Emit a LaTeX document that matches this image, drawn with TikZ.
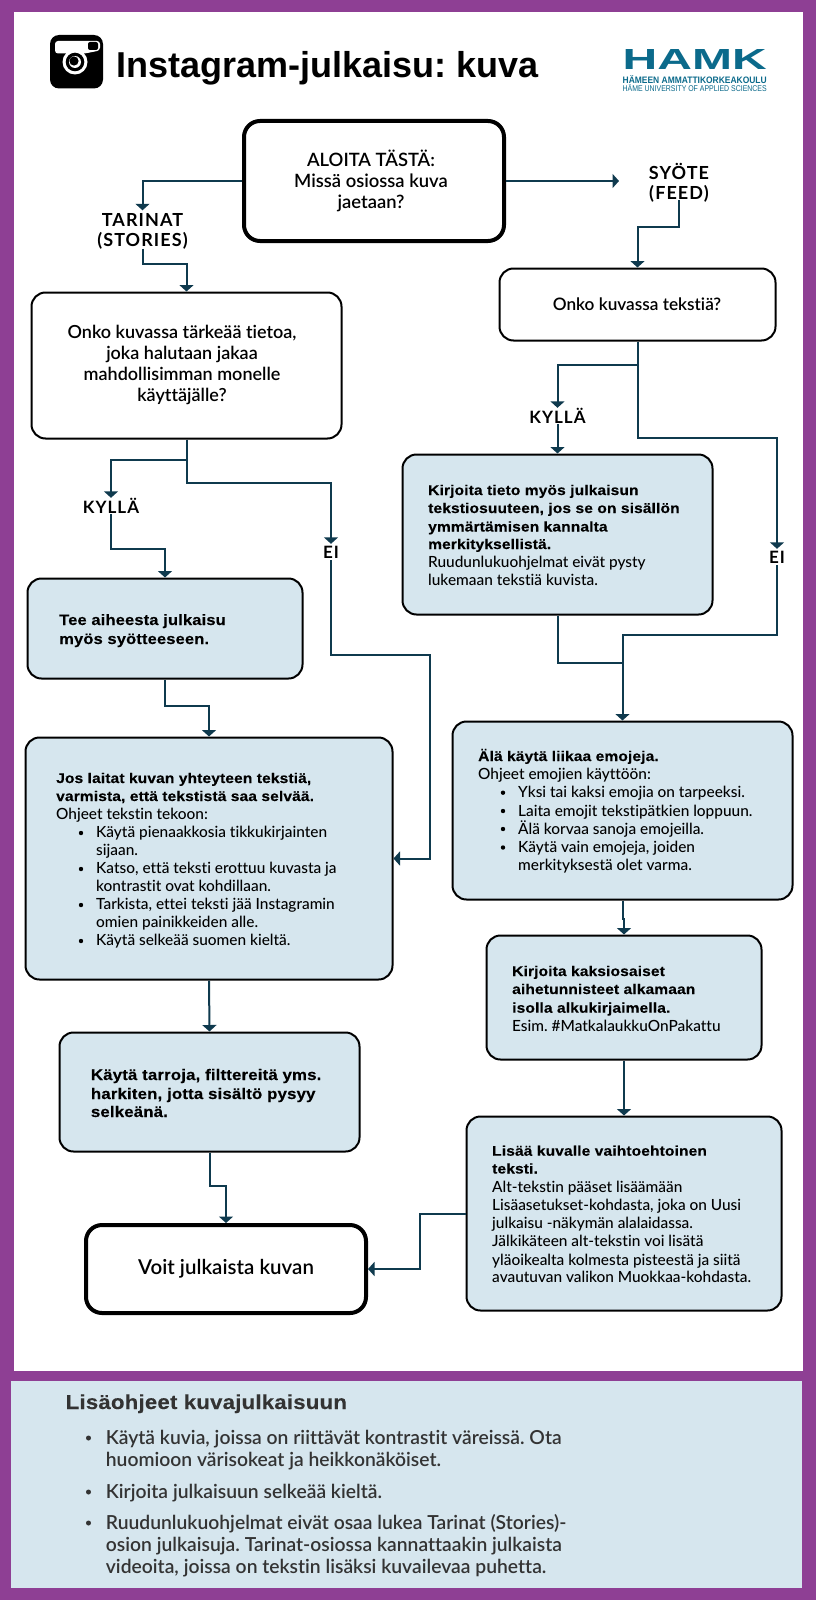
\documentclass[tikz,border=0pt]{standalone}
\usepackage{fontspec}
\usetikzlibrary{arrows.meta,calc}
\setmainfont[RawFeature={-liga}]{Lato}
\newfontfamily\hd{Liberation Sans}
\newfontfamily\bld[FakeStretch=1.1,LetterSpace=1,FakeBold=0.25]{Liberation Sans Bold}
\newfontfamily\lab[LetterSpace=6,RawFeature={-liga}]{Lato Bold}
\newfontfamily\med[RawFeature={-liga}]{Lato Medium}
\newfontfamily\semi[RawFeature={-liga}]{Lato Semibold}
\AtBeginDocument{\frenchspacing}
\definecolor{purp}{HTML}{8E3F94}
\definecolor{pale}{HTML}{D6E6EE}
\definecolor{ink}{HTML}{0F3A4E}
\definecolor{hamk}{HTML}{0B6A8B}
\definecolor{txt}{HTML}{333333}
\tikzset{
 x=1pt,y=-1pt,
 box/.style={draw=black,line width=2pt,rounded corners=14pt,inner sep=0pt},
 tbox/.style={draw=black,line width=4pt,rounded corners=16pt,fill=white},
 qbox/.style={box,fill=white},
 ibox/.style={box,fill=pale},
 conn/.style={draw=ink,line width=2pt,-{Triangle[width=14pt,length=6.5pt]}},
 plain/.style={draw=ink,line width=2pt},
 lbl/.style={font=\fontsize{17}{20}\selectfont\lab,align=center,inner sep=0pt,text depth=0pt},
 lblb/.style={lbl,font=\fontsize{18}{20}\selectfont\lab},
 ctext/.style={align=center,inner sep=0pt,text=black},
 ltext/.style={anchor=base west,inner sep=0pt,text=black,font=\fontsize{15.4}{18}\selectfont\med},
 btext/.style={ltext,font=\fontsize{14.1}{18}\selectfont\bld},
 btexta/.style={ltext,font=\fontsize{15}{18}\selectfont\bld},
 btextb/.style={ltext,font=\fontsize{15.3}{18}\selectfont\bld},
 dot/.style={circle,fill=black,inner sep=0pt,minimum size=4.4pt},
 pan/.style={anchor=base west,inner sep=0pt,text=txt,font=\fontsize{19.3}{22}\selectfont\semi},
 pdot/.style={circle,fill=txt,inner sep=0pt,minimum size=5pt},
}
\begin{document}
\begin{tikzpicture}
\useasboundingbox (0,0) rectangle (816,1600);
\fill[purp] (0,0) rectangle (816,1600);
\fill[white] (14,12) rectangle (803,1371);
\fill[pale] (11,1381) rectangle (802,1588);
% icon
\fill[black,rounded corners=9pt] (50,35) rectangle (103,88.5);
\fill[white,rounded corners=3pt] (55,53.5) -- (55,41) -- (100,41) -- (100,50.5) -- (85,53.5) -- cycle;
\fill[black,rounded corners=2pt] (88,42) rectangle (98,50);
\fill[white] (75,62) circle (12.5);
\fill[black] (75,62) circle (9.3);
\fill[white] (75,62) circle (6);
\fill[black] (74,61) circle (4.6);
\node[inner sep=0pt,anchor=base west,font=\fontsize{36}{40}\selectfont\hd\bfseries] (title) at (116,78) {Instagram-julkaisu: kuva};
% logo
\node[inner sep=0pt,text=hamk,anchor=north west] (logoa) at (622.5,49) {\resizebox{144pt}{20pt}{\bfseries\hd HAMK}};
\node[inner sep=0pt,text=hamk,anchor=north west] (logob) at (622.5,75) {\resizebox{144pt}{8pt}{\bfseries\hd HÄMEEN AMMATTIKORKEAKOULU}};
\node[inner sep=0pt,text=hamk,anchor=north west] (logoc) at (622.5,84.5) {\resizebox{144pt}{7pt}{\hd HÄME UNIVERSITY OF APPLIED SCIENCES}};
% boxes
\node[tbox,minimum width=260pt,minimum height=120pt] (start) at (374,181) {};
\node[qbox,minimum width=276pt,minimum height=72pt] (qf) at (637.5,304.5) {};
\node[qbox,minimum width=310pt,minimum height=146pt] (qs) at (186.5,365.5) {};
\node[ibox,minimum width=310pt,minimum height=160pt] (kirj) at (557.5,534.5) {};
\node[ibox,minimum width=275pt,minimum height=100pt] (tee) at (165,628.5) {};
\node[ibox,minimum width=367pt,minimum height=242pt] (jos) at (209,858.5) {};
\node[ibox,minimum width=300pt,minimum height=119pt] (tarr) at (209.5,1092) {};
\node[tbox,minimum width=280pt,minimum height=88pt] (voit) at (226,1269) {};
\node[ibox,minimum width=340pt,minimum height=178pt] (ala) at (622.5,810.5) {};
\node[ibox,minimum width=275pt,minimum height=124pt] (kaksi) at (624,997.5) {};
\node[ibox,minimum width=315pt,minimum height=194pt] (lisaa) at (624,1213.5) {};
% labels
\node[lblb,minimum height=38pt] (tar) at (142.5,229.5) {TARINAT\\(STORIES)};
\node[lblb,minimum height=38pt] (syo) at (679,181) {SYÖTE\\(FEED)};
\node[lbl,minimum height=16pt] (k2) at (557.5,416) {KYLLÄ};
\node[lbl,minimum height=16pt] (k1) at (111,506) {KYLLÄ};
\node[lbl,minimum height=16pt] (e1) at (331,552) {EI};
\node[lbl,minimum height=16pt] (e2) at (777,557) {EI};
% texts
\node[ctext,font=\fontsize{18.4}{21}\selectfont\semi] (t0) at (371,181) {ALOITA TÄSTÄ:\\Missä osiossa kuva\\jaetaan?};
\node[ctext,font=\fontsize{17.2}{20}\selectfont\semi] (t1) at (637,304) {Onko kuvassa tekstiä?};
\node[ctext,font=\fontsize{18}{20.7}\selectfont\semi] (t2) at (182,365) {Onko kuvassa tärkeää tietoa,\\joka halutaan jakaa\\mahdollisimman monelle\\käyttäjälle?};
\node[ctext,font=\fontsize{20.5}{22}\selectfont\semi] (t3) at (226,1269) {Voit julkaista kuvan};
% text lines
\foreach \y/\t in {495/{Kirjoita tieto myös julkaisun},513/{tekstiosuuteen, jos se on sisällön},531.5/{ymmärtämisen kannalta},549/{merkityksellistä.}}
  \node[btext] at (428,\y) {\t};
\foreach \y/\t in {567.7/{Ruudunlukuohjelmat eivät pysty},585.7/{lukemaan tekstiä kuvista.}}
  \node[ltext] at (428,\y) {\t};
\foreach \y/\t in {625/{Tee aiheesta julkaisu},644/{myös syötteeseen.}}
  \node[btexta] at (59,\y) {\t};
\foreach \y/\t in {783/{Jos laitat kuvan yhteyteen tekstiä,},801/{varmista, että tekstistä saa selvää.}}
  \node[btext] at (56,\y) {\t};
\node[ltext] at (56,819.5) {Ohjeet tekstin tekoon:};
\foreach \y/\t in {837.7/{Käytä pienaakkosia tikkukirjainten},855.7/{sijaan.},873.5/{Katso, että teksti erottuu kuvasta ja},891.7/{kontrastit ovat kohdillaan.},909.7/{Tarkista, ettei teksti jää Instagramin},927.7/{omien painikkeiden alle.},945.7/{Käytä selkeää suomen kieltä.}}
  \node[ltext] at (96,\y) {\t};
\foreach \y in {833,869,905,941} \node[dot] at (81,\y) {};
\foreach \y/\t in {1080/{Käytä tarroja, filttereitä yms.},1099/{harkiten, jotta sisältö pysyy},1117/{selkeänä.}}
  \node[btextb] at (90.7,\y) {\t};
\node[btext] at (478,761) {Älä käytä liikaa emojeja.};
\node[ltext] at (478,779) {Ohjeet emojien käyttöön:};
\foreach \y/\t in {797.7/{Yksi tai kaksi emojia on tarpeeksi.},816/{Laita emojit tekstipätkien loppuun.},834/{Älä korvaa sanoja emojeilla.},852/{Käytä vain emojeja, joiden},870.7/{merkityksestä olet varma.}}
  \node[ltext] at (518,\y) {\t};
\foreach \y in {792.7,811,829,847.5} \node[dot] at (503,\y) {};
\foreach \y/\t in {976/{Kirjoita kaksiosaiset},994/{aihetunnisteet alkamaan},1012.7/{isolla alkukirjaimella.}}
  \node[btext] at (512,\y) {\t};
\node[ltext] at (512,1031) {Esim. \#MatkalaukkuOnPakattu};
\foreach \y/\t in {1155.7/{Lisää kuvalle vaihtoehtoinen},1173.5/{teksti.}}
  \node[btext] at (492,\y) {\t};
\foreach \y/\t in {1192.7/{Alt-tekstin pääset lisäämään},1210.7/{Lisäasetukset-kohdasta, joka on Uusi},1228.5/{julkaisu -näkymän alalaidassa.},1246.7/{Jälkikäteen alt-tekstin voi lisätä},1265/{yläoikealta kolmesta pisteestä ja siitä},1282.7/{avautuvan valikon Muokkaa-kohdasta.}}
  \node[ltext] at (492,\y) {\t};
% panel
\node[anchor=base west,inner sep=0pt,text=txt,font=\fontsize{20.2}{22}\selectfont\bld] (ph) at (65.5,1409) {Lisäohjeet kuvajulkaisuun};
\foreach \y/\t in {1444/{Käytä kuvia, joissa on riittävät kontrastit väreissä. Ota},1466/{huomioon värisokeat ja heikkonäköiset.},1498/{Kirjoita julkaisuun selkeää kieltä.},1529/{Ruudunlukuohjelmat eivät osaa lukea Tarinat (Stories)-},1551/{osion julkaisuja. Tarinat-osiossa kannattaakin julkaista},1573/{videoita, joissa on tekstin lisäksi kuvailevaa puhetta.}}
  \node[pan] at (105.7,\y) {\t};
\foreach \y in {1438,1492,1523} \node[pdot] at (88.5,\y) {};
% connectors
\coordinate (se) at (619,181);
\coordinate (jn) at (430,858.5);
\draw[conn] (start.west) -| (tar.north);
\draw[conn] (tar.south) -- ++(0,15) -| (qs.north);
\draw[conn] (start.east) -- (se);
\draw[conn] (syo.south) -- ++(0,27) -| (qf.north);
\draw[conn] (qf.south) -- ++(0,23) -| (k2.north);
\draw[conn] (k2.south) -- (kirj.north);
\draw[conn] (qf.south) -- ++(0,96) -| (e2.north);
\draw[conn] (e2.south) -- ++(0,70) -| (ala.north);
\draw[plain] (kirj.south) |- (ala.north |- 0,663);
\draw[conn] (qs.south) -- ++(0,20) -| (k1.north);
\draw[conn] (k1.south) -- ++(0,35) -| (tee.north);
\draw[conn] (qs.south) -- ++(0,43) -| (e1.north);
\draw[conn] (e1.south) -- ++(0,95) -| (jn) -- (jos.east);
\draw[conn] (tee.south) -- ++(0,26) -| (jos.north);
\draw[conn] (jos.south) -- (tarr.north);
\draw[conn] (tarr.south) -- ++(0,33) -| (voit.north);
\draw[conn] (ala.south) -- ++(0,18) -| (kaksi.north);
\draw[conn] (kaksi.south) -- (lisaa.north);
\draw[conn] (lisaa.west) -- ++(-46,0) |- (voit.east);
\end{tikzpicture}
\end{document}
